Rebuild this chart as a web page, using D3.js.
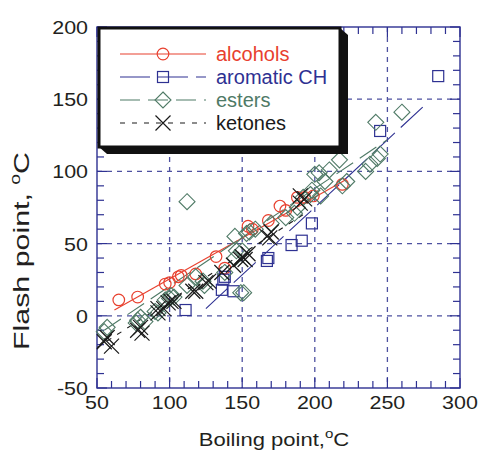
<!DOCTYPE html>
<html><head><meta charset="utf-8">
<script src="https://cdn.jsdelivr.net/npm/d3@7"></script>
<style>
html,body{margin:0;padding:0;background:#fff;}
svg text{font-family:"Liberation Sans",Arial,sans-serif;fill:#231f20;}
</style></head>
<body><svg id="chart" width="482" height="451"></svg>
<script>
// ---- data (boiling point °C, flash point °C) ----
const alcohols = [[65,11],[78,13],[97,22],[100,23],[106,27],[108,28],[118,29],[132,41],[138,33],[154,62],[157,60],[168,66],[176,76],[180,73],[188,82],[193,82],[199,83],[219,91]];
const aromaticCH = [[111,4],[136,18],[137,25],[138,27],[144,17],[167,38],[168,40],[184,49],[191,52],[198,64],[245,128],[285,166]];
const esters = [[55,-11],[57,-8],[77,-5],[78,-3],[80,-1],[83,-4],[90,3],[92,2],[97,11],[100,12],[101,14],[103,13],[112,79],[112,21],[118,27],[123,24],[124,21],[138,30],[145,40],[146,45],[145,55],[150,45],[149,16],[151,16],[153,57],[155,58],[159,60],[170,64],[180,68],[186,71],[188,75],[192,82],[197,84],[198,87],[200,98],[204,83],[203,99],[207,93],[210,101],[217,108],[219,90],[222,93],[235,100],[238,105],[243,109],[245,112],[242,134],[260,141]];
const ketones = [[55,-18],[57,-15],[60,-21],[78,-10],[81,-12],[80,-8],[92,2],[92,5],[96,5],[99,9],[101,10],[103,10],[116,17],[118,17],[125,23],[127,24],[136,30],[144,35],[149,39],[152,39],[150,41],[154,43],[167,55],[169,54],[170,58],[190,78],[190,83],[193,81]];
// fitted trend lines (end points)
const alcoholsFit = [[62,4],[221,94]];
const aromaticFit = [[125,5],[278,148]];
const estersFit = [[55,-10],[250,122]];
const ketonesFit = [[50,-22],[195,72]];
// axes
const xDomain = [50,300], yDomain = [-50,200];
const xTicks = [50,100,150,200,250,300];
const yTicks = [-50,0,50,100,150,200];
const seriesNames = ["alcohols","aromatic CH","esters","ketones"];

const svg = d3.select("#chart");
const L=97, R=460, T=27, B=388;
const x = d3.scaleLinear().domain(xDomain).range([L,R]);
const y = d3.scaleLinear().domain(yDomain).range([B,T]);
const axisCol = "#2e3192";

// grid
const gridX = xTicks.slice(1,-1), gridY = yTicks.slice(1,-1);
const g = svg.append("g");
g.selectAll(".gx").data(gridX).enter().append("line")
  .attr("x1",d=>x(d)).attr("x2",d=>x(d)).attr("y1",T).attr("y2",B)
  .attr("stroke","#4e51a0").attr("stroke-width",1.3).attr("stroke-dasharray","5,5");
g.selectAll(".gy").data(gridY).enter().append("line")
  .attr("y1",d=>y(d)).attr("y2",d=>y(d)).attr("x1",L).attr("x2",R)
  .attr("stroke","#4e51a0").attr("stroke-width",1.3).attr("stroke-dasharray","5,5");

// ticks (inward on all sides)
const minorX = d3.range(50,301,10), minorY = d3.range(-50,201,10);
const tk = svg.append("g").attr("stroke",axisCol).attr("stroke-width",1.2);
minorX.forEach(v=>{
  const len = v%50===0?10:7;
  tk.append("line").attr("x1",x(v)).attr("x2",x(v)).attr("y1",B).attr("y2",B-len);
  tk.append("line").attr("x1",x(v)).attr("x2",x(v)).attr("y1",T).attr("y2",T+len);
});
minorY.forEach(v=>{
  const len = v%50===0?10:7;
  tk.append("line").attr("y1",y(v)).attr("y2",y(v)).attr("x1",L).attr("x2",L+len);
  tk.append("line").attr("y1",y(v)).attr("y2",y(v)).attr("x1",R).attr("x2",R-len);
});
svg.append("rect").attr("x",L).attr("y",T).attr("width",R-L).attr("height",B-T)
  .attr("fill","none").attr("stroke",axisCol).attr("stroke-width",1.4);

// tick labels
svg.selectAll(".xl").data(xTicks).enter().append("text")
  .attr("transform",d=>`translate(${x(d)},409) scale(1.13,1)`).attr("text-anchor","middle")
  .attr("font-size",19).text(d=>d);
svg.selectAll(".yl").data(yTicks).enter().append("text")
  .attr("transform",d=>`translate(88,${y(d)+7}) scale(1.13,1)`).attr("text-anchor","end")
  .attr("font-size",19).text(d=>d);

// axis titles
const xt = svg.append("text").attr("transform","translate(274,446) scale(1.16,1)").attr("text-anchor","middle").attr("font-size",19);
xt.append("tspan").text("Boiling point,");
xt.append("tspan").attr("dy",-8).attr("font-size",13).text("o");
xt.append("tspan").attr("dy",8).text("C");
const yt = svg.append("text").attr("transform","translate(29,251) rotate(-90) scale(1.38,1)").attr("text-anchor","middle").attr("font-size",22);
yt.append("tspan").text("Flash point, ");
yt.append("tspan").attr("dy",-9).attr("font-size",14).text("o");
yt.append("tspan").attr("dy",9).text("C");

// marker painters
const COL = {alc:"#e8402e", aro:"#2e3192", est:"#4f7a66", ket:"#1a1a1a"};
function circle(sel,cx,cy,c){ sel.append("circle").attr("cx",cx).attr("cy",cy).attr("r",5.8).attr("fill","none").attr("stroke",c).attr("stroke-width",1.2); }
function square(sel,cx,cy,c){ sel.append("rect").attr("x",cx-5.5).attr("y",cy-5.5).attr("width",11).attr("height",11).attr("fill","none").attr("stroke",c).attr("stroke-width",1.2); }
function diamond(sel,cx,cy,c){ const s=8; sel.append("path").attr("d",`M${cx},${cy-s}L${cx+s},${cy}L${cx},${cy+s}L${cx-s},${cy}Z`).attr("fill","none").attr("stroke",c).attr("stroke-width",1.1); }
function cross(sel,cx,cy,c){ const s=7.5; sel.append("path").attr("d",`M${cx-s},${cy-s}L${cx+s},${cy+s}M${cx-s},${cy+s}L${cx+s},${cy-s}`).attr("fill","none").attr("stroke",c).attr("stroke-width",1.2); }

const series = [
  {name:seriesNames[0], data:alcohols, fit:alcoholsFit, col:COL.alc, mk:circle, dash:null},
  {name:seriesNames[1], data:aromaticCH, fit:aromaticFit, col:COL.aro, mk:square, dash:"30,8"},
  {name:seriesNames[2], data:esters, fit:estersFit, col:COL.est, mk:diamond, dash:"20,8"},
  {name:seriesNames[3], data:ketones, fit:ketonesFit, col:COL.ket, mk:cross, dash:"5,7"}
];
const line = d3.line().x(d=>x(d[0])).y(d=>y(d[1]));
const plot = svg.append("g");
series.forEach(s=>{
  plot.append("path").attr("d",line(s.fit)).attr("fill","none").attr("stroke",s.col)
    .attr("stroke-width",1.1).attr("stroke-dasharray",s.dash);
});
series.forEach(s=>{
  const gg = plot.append("g");
  s.data.forEach(d=>s.mk(gg,x(d[0]),y(d[1]),s.col));
});

// legend
const lx0=99, ly0=28, lx1=340, ly1=147, sh=8;
svg.append("path").attr("d",`M${lx0},${ly1}L${lx0+sh},${ly1+sh-1}L${lx1+sh},${ly1+sh-1}L${lx1+sh},${ly0+sh-1}L${lx1},${ly0}Z`).attr("fill","#111");
svg.append("rect").attr("x",lx0).attr("y",ly0).attr("width",lx1-lx0).attr("height",ly1-ly0)
  .attr("fill","#fff").attr("stroke","#111").attr("stroke-width",3);
const rowsY = [54,77,100,123];
series.forEach((s,i)=>{
  const ry = rowsY[i];
  svg.append("line").attr("x1",120).attr("x2",206).attr("y1",ry).attr("y2",ry)
    .attr("stroke",s.col).attr("stroke-width",1.1).attr("stroke-dasharray",s.dash);
  s.mk(svg,163,ry,s.col);
  svg.append("text").attr("x",216).attr("y",ry+7).attr("font-size",20)
    .style("fill",s.col).text(s.name);
});
</script></body></html>
